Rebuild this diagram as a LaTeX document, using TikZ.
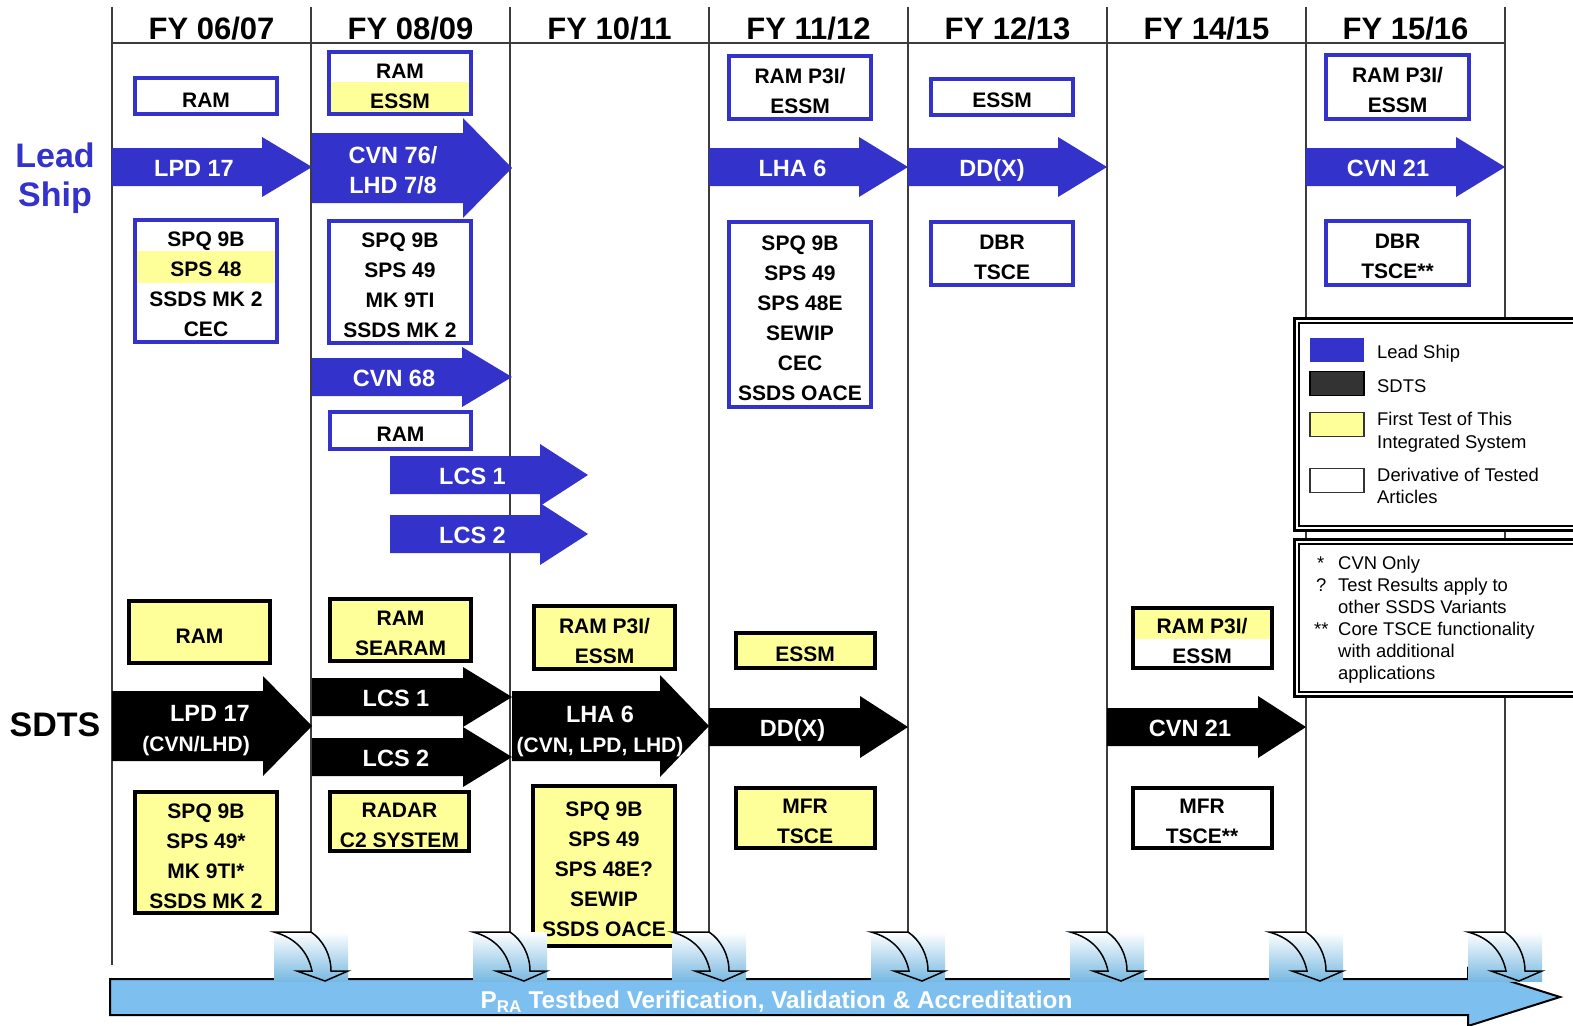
\documentclass[tikz,border=0pt]{standalone}
\usepackage{fontspec}
\setmainfont{Liberation Sans}
\usetikzlibrary{positioning}
\definecolor{leadblue}{RGB}{51,51,204}
\definecolor{testyellow}{RGB}{255,255,153}
\definecolor{sdtsgray}{RGB}{51,51,51}
\definecolor{prablue}{RGB}{125,192,240}
\definecolor{rampblue}{RGB}{120,185,225}
\definecolor{gridgray}{RGB}{60,60,60}
\newcommand{\hdfont}{\fontsize{31}{36}\selectfont\bfseries}
\newcommand{\bxfont}{\fontsize{21}{30}\selectfont\bfseries}
\newcommand{\arfont}{\fontsize{23.5}{30}\selectfont\bfseries}
\newcommand{\sbfont}{\fontsize{21}{28}\selectfont\bfseries}
\newcommand{\rowfont}{\fontsize{34}{39}\selectfont\bfseries}
\newcommand{\lgfont}{\fontsize{18.4}{22.5}\selectfont}
\newcommand{\bxtop}{\rule{0pt}{22pt}}
\newcommand{\shiparrow}[7]{%
  \fill[#1] (#2,#5-#6) -- (#3,#5-#6) -- (#3,#5-#7) -- (#4,#5) -- (#3,#5+#7) -- (#3,#5+#6) -- (#2,#5+#6) -- cycle;}
\tikzset{
  grid/.style={draw=gridgray, line width=1.5pt},
  leadbox/.style={draw=leadblue, line width=4pt, inner sep=0pt, align=center, font=\bxfont},
  testbox/.style={draw=black, line width=4pt, fill=testyellow, inner sep=0pt, align=center, font=\bxfont},
  derivbox/.style={draw=black, line width=4pt, fill=white, inner sep=0pt, align=center, font=\bxfont},
  arrlabel/.style={text=white, font=\arfont, align=center, inner sep=0pt},
  yearlabel/.style={font=\hdfont, inner sep=0pt},
  leglabel/.style={font=\lgfont, anchor=base west, inner sep=0pt},
  swatch/.style={minimum width=54pt, minimum height=24pt, inner sep=0pt, line width=1.5pt},
}

\begin{document}
\begin{tikzpicture}[x=1pt,y=-1pt]
      \clip (0,0) rectangle (1573,1025);
      \fill[white] (0,0) rectangle (1573,1025);
      % time grid
      \draw[grid] (112,7) -- (112,965);
      \foreach \i in {1,...,7}
        \draw[grid] ({112+199*\i},7) -- ({112+199*\i},932);
      \draw[grid] (112,43) -- (1505,43);
      \foreach \yr [count=\i from 0] in {06/07,08/09,10/11,11/12,12/13,14/15,15/16}
        \node[yearlabel] (fy\i) at ({211.5+199*\i},29) {FY \yr};
      \node[font=\rowfont, text=leadblue, align=center, inner sep=0pt] (leadrow) at (55,178) {Lead\\Ship};
      \node[font=\rowfont, inner sep=0pt] (sdtsrow) at (55,725) {SDTS};

      % lead ship row
      \shiparrow{leadblue}{112}{262}{312}{167}{19}{30}
      \shiparrow{leadblue}{312}{463}{512}{168}{35}{50}
      \shiparrow{leadblue}{312}{462}{512}{377}{19}{30}
      \shiparrow{leadblue}{390}{540}{588}{475}{19}{31}
      \shiparrow{leadblue}{390}{540}{588}{534}{19}{31}
      \shiparrow{leadblue}{709}{859}{908}{167}{19}{30}
      \shiparrow{leadblue}{908}{1058}{1107}{167}{19}{30}
      \shiparrow{leadblue}{1306}{1456}{1505}{167}{19}{30}
      \node[arrlabel] (lslpd) at (194,168) {LPD 17};
      \node[arrlabel] (lscvn) at (393,170) {CVN 76/\\LHD 7/8};
      \node[arrlabel] (lscvnb) at (394,378) {CVN 68};
      \node[arrlabel] (lslcsa) at (472.5,476) {LCS 1};
      \node[arrlabel] (lslcsb) at (472.5,535) {LCS 2};
      \node[arrlabel] (lslha) at (792.5,168) {LHA 6};
      \node[arrlabel] (lsddx) at (992,170) {DD(X)};
      \node[arrlabel] (lscvnc) at (1388,168) {CVN 21};

      \fill[testyellow] (331,82) rectangle (469,113);
      \fill[testyellow] (137,251) rectangle (275,283);
      \node[leadbox, minimum width=142pt, minimum height=36pt] (lsram) at (206,96) {\bxtop RAM};
      \node[leadbox, minimum width=142pt, minimum height=62pt] (lsramessm) at (400,83) {\bxtop RAM\\ESSM};
      \node[leadbox, minimum width=142pt, minimum height=122pt] (lssensa) at (206,281) {\bxtop SPQ 9B\\SPS 48\\SSDS MK 2\\CEC};
      \node[leadbox, minimum width=142pt, minimum height=122pt] (lssensb) at (400,282) {\bxtop SPQ 9B\\SPS 49\\MK 9TI\\SSDS MK 2};
      \node[leadbox, minimum width=141pt, minimum height=37pt] (lsramb) at (400.5,430.5) {\bxtop RAM};
      \node[leadbox, minimum width=142pt, minimum height=63pt] (lsp3i) at (800,87.5) {\bxtop RAM P3I/\\ESSM};
      \node[leadbox, minimum width=142pt, minimum height=185pt] (lssensc) at (800,314.5) {\bxtop SPQ 9B\\SPS 49\\SPS 48E\\SEWIP\\CEC\\SSDS OACE};
      \node[leadbox, minimum width=142pt, minimum height=36pt] (lsessm) at (1002,97) {\bxtop ESSM};
      \node[leadbox, minimum width=142pt, minimum height=63pt] (lsdbr) at (1002,253.5) {\bxtop DBR\\TSCE};
      \node[leadbox, minimum width=143pt, minimum height=64pt] (lsp3ib) at (1397.5,87) {\bxtop RAM P3I/\\ESSM};
      \node[leadbox, minimum width=143pt, minimum height=64pt] (lsdbrb) at (1397.5,253) {\bxtop DBR\\TSCE**};

      % sdts row
      \shiparrow{black}{112}{263}{312}{726}{35}{50}
      \shiparrow{black}{312}{463}{512}{697}{19}{30}
      \shiparrow{black}{312}{463}{512}{757}{19}{30}
      \shiparrow{black}{512}{660}{709}{726}{35}{51}
      \shiparrow{black}{709}{860}{908}{727}{19}{31}
      \shiparrow{black}{1107}{1258}{1306}{727}{19}{31}
      \node[arrlabel, align=right, anchor=east] (sdlpd) at (250,731) {LPD 17\\{\sbfont (CVN/LHD)}};
      \node[arrlabel] (sdlcsa) at (396,698) {LCS 1};
      \node[arrlabel] (sdlcsb) at (396,758) {LCS 2};
      \node[arrlabel] (sdlha) at (600,731) {LHA 6\\{\sbfont (CVN, LPD, LHD)}};
      \node[arrlabel] (sdddx) at (792.5,730) {DD(X)};
      \node[arrlabel] (sdcvn) at (1190,728) {CVN 21};

      \fill[testyellow] (1134.5,610) rectangle (1269.5,639);
      \node[testbox, minimum width=141pt, minimum height=62pt] (sdram) at (199.5,632) {\bxtop RAM};
      \node[testbox, minimum width=142pt, minimum height=121pt] (sdsensa) at (206,852.5) {\bxtop SPQ 9B\\SPS 49*\\MK 9TI*\\SSDS MK 2};
      \node[testbox, minimum width=141pt, minimum height=62pt] (sdsearam) at (400.5,630) {\bxtop RAM\\SEARAM};
      \node[testbox, minimum width=139pt, minimum height=59pt] (sdradar) at (399.5,821.5) {\bxtop RADAR\\C2 SYSTEM};
      \node[testbox, minimum width=141pt, minimum height=63pt] (sdp3i) at (604.5,637.5) {\bxtop RAM P3I/\\ESSM};
      \node[testbox, minimum width=142pt, minimum height=160pt] (sdsensc) at (604,866) {\bxtop SPQ 9B\\SPS 49\\SPS 48E?\\SEWIP\\SSDS OACE};
      \node[testbox, minimum width=139pt, minimum height=35pt] (sdessm) at (805,650.5) {\bxtop ESSM};
      \node[testbox, minimum width=139pt, minimum height=60pt] (sdmfr) at (805,817.5) {\bxtop MFR\\TSCE};
      \node[derivbox, fill=none, minimum width=139pt, minimum height=60pt] (sdp3ib) at (1202,638) {\bxtop RAM P3I/\\ESSM};
      \node[derivbox, minimum width=139pt, minimum height=60pt] (sdmfrb) at (1202,817.5) {\bxtop MFR\\TSCE**};

      % testbed arrow
      \filldraw[fill=prablue, draw=black, line width=2pt] (110,979) -- (1468,979) -- (1468,968) -- (1560,997) -- (1468,1026) -- (1468,1015) -- (110,1015) -- cycle;
      \node[arrlabel, font=\fontsize{24.3}{30}\selectfont\bfseries] (pra) at (776.5,1002) {P\textsubscript{RA} Testbed Verification, Validation \& Accreditation};
      \foreach \i [evaluate=\i as \xc using 112+199*\i] in {1,...,7} {
        \shade[top color=white, bottom color=rampblue] (\xc-37,932) rectangle (\xc+37,981);
        \draw[line width=1.5pt, line join=miter] (\xc-37,932) -- (\xc,932) .. controls (\xc+12,940) and (\xc+20,955) .. (\xc+20,971)
          -- (\xc+37,971) -- (\xc+14,981) -- (\xc-14,971) -- (\xc+1,971) .. controls (\xc-3,952) and (\xc-15,938) .. (\xc-37,932) -- cycle;
      }

      % legend
      \draw[line width=3pt, fill=white] (1294.5,318.5) rectangle (1620,530.5);
      \draw[line width=2pt] (1299,323) rectangle (1620,526);
      \node[swatch, fill=leadblue] (swlead) at (1337,350) {};
      \node[swatch, fill=sdtsgray, draw=black] (swsdts) at (1337,383.5) {};
      \node[swatch, fill=testyellow, draw=sdtsgray] (swtest) at (1337,424.5) {};
      \node[swatch, fill=white, draw=sdtsgray] (swderiv) at (1337,480.5) {};
      \node[leglabel] (lglead) at (1377,358) {Lead Ship};
      \node[leglabel] (lgsdts) at (1377,392) {SDTS};
      \node[leglabel] (lgtesta) at (1377,425) {First Test of This};
      \node[leglabel] (lgtestb) at (1377,448) {Integrated System};
      \node[leglabel] (lgderiva) at (1377,481) {Derivative of Tested};
      \node[leglabel] (lgderivb) at (1377,503) {Articles};

      \draw[line width=3pt, fill=white] (1294.5,539.5) rectangle (1620,696.5);
      \draw[line width=2pt] (1299,544) rectangle (1620,692);
      \node[leglabel] (mkcvn) at (1317,569) {*};
      \node[leglabel] (ntcvn) at (1338,569) {CVN Only};
      \node[leglabel] (mkssds) at (1316,591) {?};
      \node[leglabel] (ntssdsa) at (1338,591) {Test Results apply to};
      \node[leglabel] (ntssdsb) at (1338,613) {other SSDS Variants};
      \node[leglabel] (mktsce) at (1314,635) {**};
      \node[leglabel] (nttscea) at (1338,635) {Core TSCE functionality};
      \node[leglabel] (nttsceb) at (1338,657) {with additional};
      \node[leglabel] (nttscec) at (1338,679) {applications};
\end{tikzpicture}
\end{document}
